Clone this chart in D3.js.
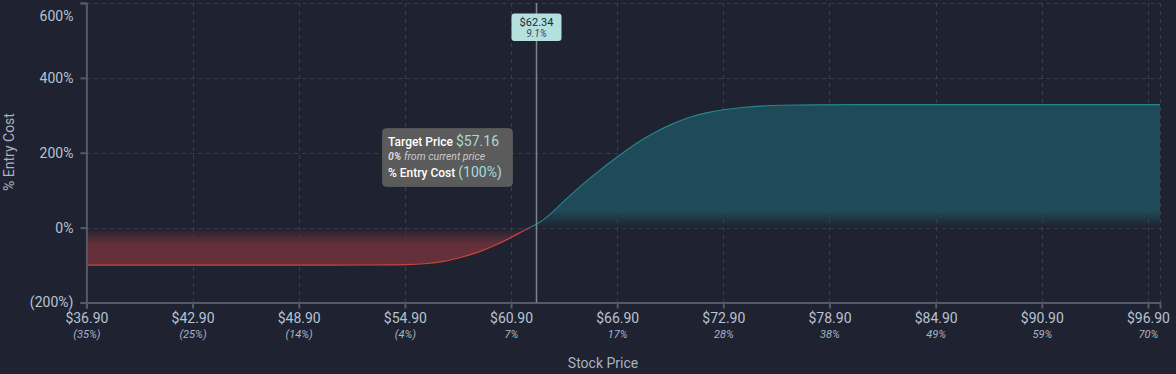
<!DOCTYPE html>
<html><head><meta charset="utf-8">
<script src="https://cdn.jsdelivr.net/npm/d3@7"></script>
<style>
html,body{margin:0;padding:0;background:#1e2231;}
svg{display:block;font-family:Roboto,"Noto Sans",sans-serif;}
</style></head><body>
<svg id="c" width="1176" height="374"></svg>
<script>
// Data
const prices = [36.9,40,44,48,51,53,54,55,56,57,58,59,60,61,61.5,62,62.5,63,64,65,66,67,68,69,70,71,72,73,74,75,76,78,80,85,90,95,97.58];
const pctEntry = [-100,-100,-100,-100,-100,-99.8,-99.5,-98.8,-97,-92,-81,-67,-48,-24,-11,1,13,30,76,118,157,192,227,254,277,296,308,316,321,325,327,328,328.5,328.5,328.5,328.5,328.5];
const xTickValues = [36.9,42.9,48.9,54.9,60.9,66.9,72.9,78.9,84.9,90.9,96.9];
const xTickSub = ["(35%)","(25%)","(14%)","(4%)","7%","17%","28%","38%","49%","59%","70%"];
const yTickValues = [-200,0,200,400,600];
const currentPrice = 62.34, currentPct = "9.1%";

const svg = d3.select("#c");
const L=86.4, R=1160, T=3, B=302.5;
const x = d3.scaleLinear().domain([36.9,97.58]).range([L,R]);
const y = d3.scaleLinear().domain([-200,600]).range([B,T]);
const data = prices.map((p,i)=>({p,v:pctEntry[i]}));
const y0 = y(0);

const defs = svg.append("defs");
const gT = defs.append("linearGradient").attr("id","gT").attr("gradientUnits","userSpaceOnUse")
  .attr("x1",0).attr("x2",0).attr("y1",y0).attr("y2",y0-17);
gT.append("stop").attr("offset",0).attr("stop-color","#1f4a57").attr("stop-opacity",0);
gT.append("stop").attr("offset",1).attr("stop-color","#1f4a57").attr("stop-opacity",1);
const gR = defs.append("linearGradient").attr("id","gR").attr("gradientUnits","userSpaceOnUse")
  .attr("x1",0).attr("x2",0).attr("y1",y0).attr("y2",y0+17);
gR.append("stop").attr("offset",0).attr("stop-color","#65303a").attr("stop-opacity",0);
gR.append("stop").attr("offset",1).attr("stop-color","#65303a").attr("stop-opacity",1);
defs.append("clipPath").attr("id","cpT").append("rect").attr("x",L).attr("y",T).attr("width",R-L).attr("height",y0-T);
defs.append("clipPath").attr("id","cpR").append("rect").attr("x",L).attr("y",y0).attr("width",R-L).attr("height",B-y0);

// grid
const grid = svg.append("g").attr("stroke","#3a3f50").attr("stroke-dasharray","4,4").attr("stroke-width",1);
xTickValues.concat([97.58]).forEach(v=>grid.append("line").attr("x1",Math.round(x(v))+0.5).attr("x2",Math.round(x(v))+0.5).attr("y1",T).attr("y2",B));
yTickValues.forEach(v=>grid.append("line").attr("x1",L).attr("x2",R).attr("y1",Math.round(y(v))+0.5).attr("y2",Math.round(y(v))+0.5));

const area = d3.area().x(d=>x(d.p)).y0(y0).y1(d=>y(d.v)).curve(d3.curveBasis);
const line = d3.line().x(d=>x(d.p)).y(d=>y(d.v)).curve(d3.curveBasis);
svg.append("path").datum(data).attr("d",area).attr("fill","url(#gT)").attr("clip-path","url(#cpT)");
svg.append("path").datum(data).attr("d",area).attr("fill","url(#gR)").attr("clip-path","url(#cpR)");
svg.append("path").datum(data).attr("d",line).attr("fill","none").attr("stroke","#27858c").attr("stroke-width",1.2).attr("clip-path","url(#cpT)");
svg.append("path").datum(data).attr("d",line).attr("fill","none").attr("stroke","#c9453b").attr("stroke-width",1.2).attr("clip-path","url(#cpR)");

// axes
const fmtY = v => v<0 ? "("+Math.abs(v)+"%)" : v+"%";
const yAxis = svg.append("g").attr("transform",`translate(${L},0)`)
  .call(d3.axisLeft(y).tickValues(yTickValues).tickFormat(fmtY).tickSize(6).tickPadding(7));
const xAxis = svg.append("g").attr("transform",`translate(0,${B})`)
  .call(d3.axisBottom(x).tickValues(xTickValues).tickFormat(d=>"$"+d.toFixed(2)).tickSize(6).tickPadding(5));
[yAxis,xAxis].forEach(a=>{
  a.select(".domain").attr("stroke","#555a66").attr("stroke-width",2);
  a.selectAll(".tick line").attr("stroke","#555a66").attr("stroke-width",2);
  a.selectAll("text").attr("fill","#b9c3d3").style("font-size","14px").style("font-family","Roboto");
});
// keep the top label inside the picture
yAxis.selectAll(".tick").filter(d=>d===600).select("text").attr("y",13);
xAxis.selectAll(".tick").append("text").attr("y",35).attr("fill","#aab4c4")
  .style("font-size","11px").style("font-style","italic").style("font-family","Roboto")
  .attr("text-anchor","middle").text((d,i)=>xTickSub[i]);

// titles
svg.append("text").attr("x",603).attr("y",368).attr("text-anchor","middle").attr("fill","#a9b2c0").style("font-size","14px").text("Stock Price");
svg.append("text").attr("transform","translate(14,152) rotate(-90)").attr("text-anchor","middle").attr("fill","#a9b2c0").style("font-size","14px").text("% Entry Cost");

// current price line + label
const cx = x(currentPrice);
svg.append("line").attr("x1",cx).attr("x2",cx).attr("y1",T).attr("y2",B).attr("stroke","#7c8591").attr("stroke-width",1.5);
svg.append("rect").attr("x",cx-25).attr("y",13.5).attr("width",50).attr("height",27.5).attr("rx",3).attr("fill","#b4e0de");
svg.append("text").attr("x",cx).attr("y",26).attr("text-anchor","middle").attr("fill","#1d2733").style("font-size","11px").text("$"+currentPrice.toFixed(2));
svg.append("text").attr("x",cx).attr("y",37).attr("text-anchor","middle").attr("fill","#3a4652").style("font-size","10px").style("font-style","italic").text(currentPct);

// tooltip
const tt = svg.append("g");
tt.append("rect").attr("x",382.5).attr("y",128.5).attr("width",130).attr("height",58).attr("rx",4).attr("fill","#5b5b5b").attr("stroke","#6a6a6a").attr("stroke-width",0.5);
const t1 = tt.append("text").attr("x",388).attr("y",146);
t1.append("tspan").attr("fill","#ffffff").style("font-size","12px").style("font-weight","500").text("Target Price ");
t1.append("tspan").attr("fill","#a3dbdc").style("font-size","14px").text("$57.16");
const t2 = tt.append("text").attr("x",388).attr("y",160).style("font-size","10.5px").style("font-style","italic");
t2.append("tspan").attr("fill","#d8d8d8").style("font-weight","bold").text("0%");
t2.append("tspan").attr("fill","#c9c9c9").text(" from current price");
const t3 = tt.append("text").attr("x",388).attr("y",177);
t3.append("tspan").attr("fill","#ffffff").style("font-size","12px").style("font-weight","500").text("% Entry Cost ");
t3.append("tspan").attr("fill","#a3dbdc").style("font-size","14px").text("(100%)");
</script>
</body></html>
